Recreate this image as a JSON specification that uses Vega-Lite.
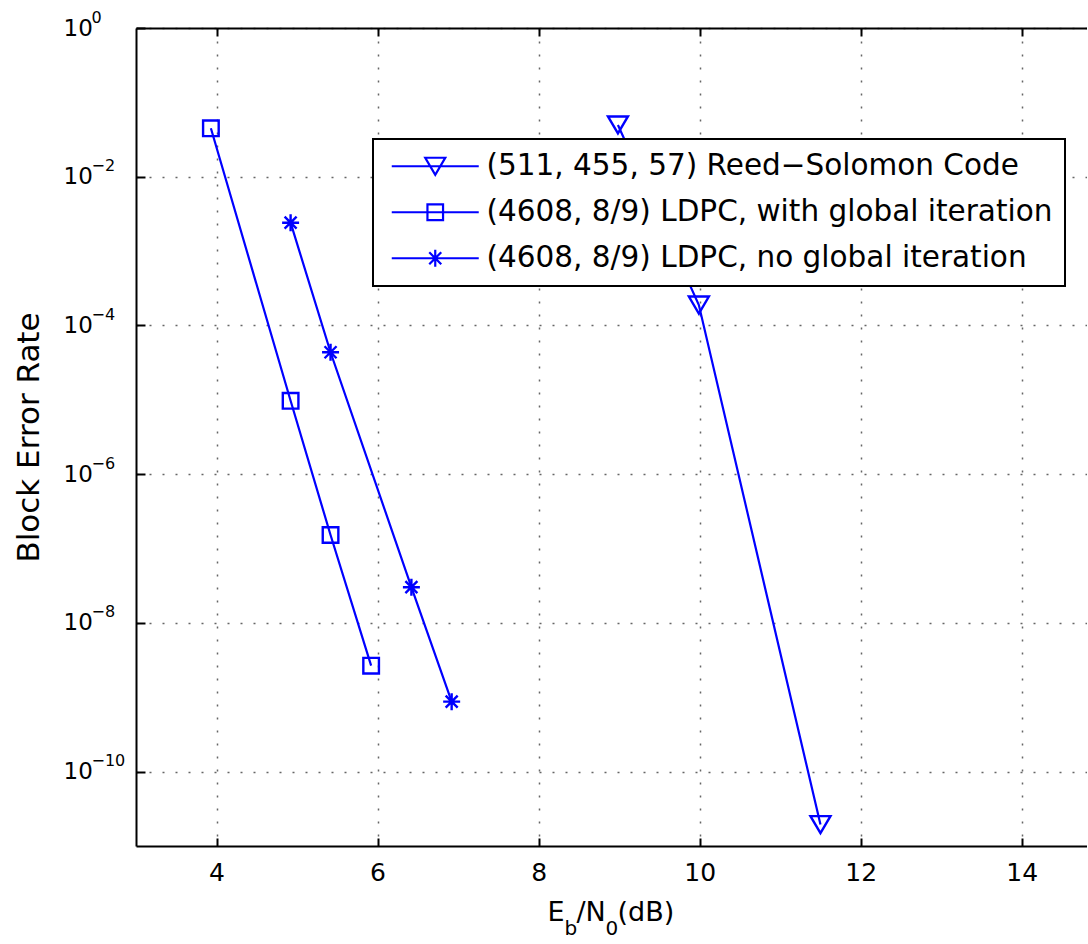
{
  "$schema": "https://vega.github.io/schema/vega-lite/v6.json",
  "width": 951,
  "height": 818,
  "autosize": {"type": "none"},
  "padding": {"left": 136, "top": 28, "right": 0, "bottom": 98},
  "background": "white",
  "config": {
    "view": {"stroke": null},
    "font": "DejaVu Sans",
    "axis": {"labelFont": "DejaVu Sans", "titleFont": "DejaVu Sans", "labelColor": "black", "titleColor": "black", "titleFontWeight": "normal"},
    "legend": {"labelFont": "DejaVu Sans", "strokeWidth": 2}
  },
  "data": {
    "values": [
      {"series": "(511, 455, 57) Reed−Solomon Code", "x": 8.985, "y": 0.0497},
      {"series": "(511, 455, 57) Reed−Solomon Code", "x": 9.99, "y": 0.000188},
      {"series": "(511, 455, 57) Reed−Solomon Code", "x": 11.5, "y": 1.94e-11},
      {"series": "(4608, 8/9) LDPC, with global iteration", "x": 3.93, "y": 0.0448},
      {"series": "(4608, 8/9) LDPC, with global iteration", "x": 4.92, "y": 9.7e-6},
      {"series": "(4608, 8/9) LDPC, with global iteration", "x": 5.416, "y": 1.52e-7},
      {"series": "(4608, 8/9) LDPC, with global iteration", "x": 5.92, "y": 2.66e-9},
      {"series": "(4608, 8/9) LDPC, no global iteration", "x": 4.92, "y": 0.00241},
      {"series": "(4608, 8/9) LDPC, no global iteration", "x": 5.416, "y": 4.36e-5},
      {"series": "(4608, 8/9) LDPC, no global iteration", "x": 6.42, "y": 3.02e-8},
      {"series": "(4608, 8/9) LDPC, no global iteration", "x": 6.92, "y": 8.73e-10}
    ]
  },
  "resolve": {"axis": {"x": "independent", "y": "independent"}, "scale": {"shape": "independent"}},
  "layer": [
    {
      "mark": {"type": "line", "color": "blue", "strokeWidth": 2.2},
      "encoding": {
        "x": {
          "field": "x", "type": "quantitative",
          "scale": {"domain": [3, 14.81], "nice": false, "zero": false},
          "axis": {
            "orient": "bottom", "values": [4, 6, 8, 10, 12, 14], "title": null,
            "grid": true, "gridDash": [2, 11], "gridColor": "#666", "gridWidth": 1.5,
            "domain": true, "domainColor": "black", "domainWidth": 2,
            "ticks": true, "tickSize": -8, "tickWidth": 2, "tickColor": "black",
            "labelFontSize": 25, "labelPadding": 22, "labelFlush": false, "labelOverlap": false
          }
        },
        "y": {
          "field": "y", "type": "quantitative",
          "scale": {"type": "log", "domain": [1e-11, 1], "nice": false},
          "axis": {
            "orient": "left", "values": [1, 0.01, 0.0001, 1e-6, 1e-8, 1e-10],
            "labelExpr": "'10'", "labelAlign": "left", "labelBaseline": "middle",
            "labelPadding": 82, "labelFontSize": 23, "labelFlush": false, "labelOverlap": false,
            "grid": true, "gridDash": [2, 11], "gridColor": "#666", "gridWidth": 1.5,
            "domain": true, "domainColor": "black", "domainWidth": 2,
            "ticks": true, "tickSize": -9, "tickWidth": 2, "tickColor": "black",
            "title": "Block Error Rate", "titleFontSize": 31, "titleAngle": -90,
            "titleX": -98, "titleY": 409, "titleAlign": "center", "titleBaseline": "alphabetic"
          }
        },
        "detail": {"field": "series"}
      }
    },
    {
      "mark": {"type": "point", "filled": false, "color": "blue", "strokeWidth": 2.4, "size": 400, "opacity": 1},
      "encoding": {
        "x": {
          "field": "x", "type": "quantitative",
          "axis": {"orient": "bottom", "title": "E", "titleX": 411, "titleY": 74, "titleAlign": "left", "titleBaseline": "alphabetic", "titleFontSize": 27, "labels": false, "ticks": false, "domain": false, "grid": false}
        },
        "y": {
          "field": "y", "type": "quantitative",
          "axis": {
            "orient": "left", "values": [1, 0.01, 0.0001, 1e-6, 1e-8, 1e-10],
            "labelExpr": "datum.value >= 0.5 ? '0' : '−' + round(-log(datum.value) / LN10)",
            "labelAlign": "left", "labelBaseline": "middle", "labelOffset": -11, "labelPadding": 45,
            "labelFontSize": 16, "labelFlush": false, "labelOverlap": false,
            "ticks": false, "domain": false, "grid": false, "title": null
          }
        },
        "shape": {
          "field": "series", "type": "nominal",
          "scale": {
            "domain": ["(511, 455, 57) Reed−Solomon Code", "(4608, 8/9) LDPC, with global iteration", "(4608, 8/9) LDPC, no global iteration"],
            "range": ["M-1,-0.85L1,-0.85L0,0.85Z", "M-0.78,-0.78L0.78,-0.78L0.78,0.78L-0.78,0.78Z", "M0,-0.85L0,0.85M-0.85,0L0.85,0M-0.6,-0.6L0.6,0.6M-0.6,0.6L0.6,-0.6"]
          },
          "legend": null
        }
      }
    },
    {
      "mark": {"type": "point", "opacity": 0},
      "encoding": {
        "x": {"field": "x", "type": "quantitative", "axis": {"orient": "bottom", "title": "b", "titleX": 428, "titleY": 88, "titleAlign": "left", "titleBaseline": "alphabetic", "titleFontSize": 20, "labels": false, "ticks": false, "domain": false, "grid": false}},
        "y": {"field": "y", "type": "quantitative", "axis": null}
      }
    },
    {
      "mark": {"type": "point", "opacity": 0},
      "encoding": {
        "x": {"field": "x", "type": "quantitative", "axis": {"orient": "bottom", "title": "/N", "titleX": 440, "titleY": 74, "titleAlign": "left", "titleBaseline": "alphabetic", "titleFontSize": 27, "labels": false, "ticks": false, "domain": false, "grid": false}},
        "y": {"field": "y", "type": "quantitative", "axis": null}
      }
    },
    {
      "mark": {"type": "point", "opacity": 0},
      "encoding": {
        "x": {"field": "x", "type": "quantitative", "axis": {"orient": "bottom", "title": "0", "titleX": 469, "titleY": 88, "titleAlign": "left", "titleBaseline": "alphabetic", "titleFontSize": 20, "labels": false, "ticks": false, "domain": false, "grid": false}},
        "y": {"field": "y", "type": "quantitative", "axis": null}
      }
    },
    {
      "mark": {"type": "point", "opacity": 0, "filled": false, "color": "blue", "strokeWidth": 2.2, "size": 400},
      "encoding": {
        "x": {"field": "x", "type": "quantitative", "axis": {"orient": "bottom", "title": "(dB)", "titleX": 481, "titleY": 74, "titleAlign": "left", "titleBaseline": "alphabetic", "titleFontSize": 27, "labels": false, "ticks": false, "domain": false, "grid": false}},
        "y": {"field": "y", "type": "quantitative", "axis": null},
        "shape": {
          "field": "series", "type": "nominal",
          "scale": {
            "domain": ["(511, 455, 57) Reed−Solomon Code", "(4608, 8/9) LDPC, with global iteration", "(4608, 8/9) LDPC, no global iteration"],
            "range": ["M-4.35,0L4.35,0M-1,-0.85L1,-0.85L0,0.85Z", "M-4.35,0L4.35,0M-0.78,-0.78L0.78,-0.78L0.78,0.78L-0.78,0.78Z", "M-4.35,0L4.35,0M0,-0.85L0,0.85M-0.85,0L0.85,0M-0.6,-0.6L0.6,0.6M-0.6,0.6L0.6,-0.6"]
          },
          "legend": {
            "orient": "none", "legendX": 237, "legendY": 111, "title": null,
            "labelFontSize": 29.5, "labelColor": "black", "labelLimit": 2000,
            "symbolSize": 400, "symbolStrokeWidth": 2.2, "symbolStrokeColor": "blue", "symbolFillColor": "transparent", "symbolOpacity": 1,
            "symbolOffset": 35, "labelOffset": 36.5, "padding": 12.5, "rowPadding": 15,
            "strokeColor": "black", "fillColor": "white"
          }
        }
      }
    },
    {
      "mark": {"type": "point", "opacity": 0},
      "encoding": {
        "x": {"field": "x", "type": "quantitative", "axis": {"orient": "top", "values": [4, 6, 8, 10, 12, 14], "title": null, "labels": false, "grid": false, "domain": true, "domainColor": "black", "domainWidth": 2, "ticks": true, "tickSize": -8, "tickWidth": 2, "tickColor": "black"}},
        "y": {"field": "y", "type": "quantitative", "axis": null}
      }
    }
  ]
}
